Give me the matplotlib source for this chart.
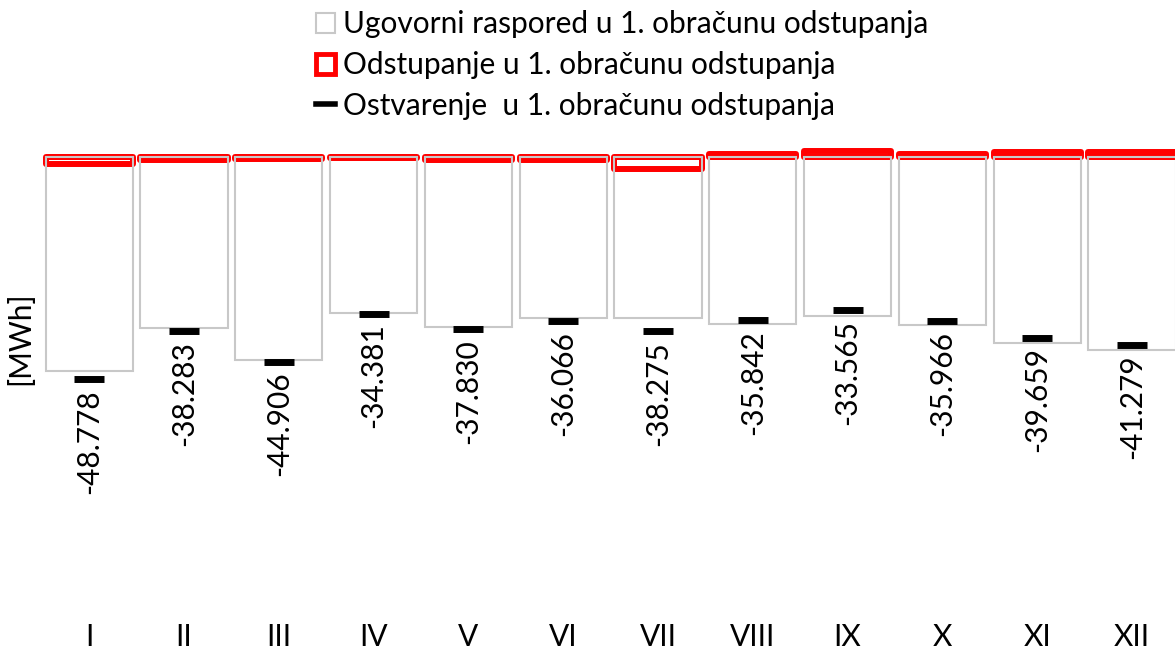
import numpy as np
import matplotlib.pyplot as plt
from matplotlib.patches import Patch
from matplotlib.lines import Line2D

plt.rcParams['font.family'] = ['Lato', 'DejaVu Sans']

months = ["I", "II", "III", "IV", "V", "VI", "VII", "VIII", "IX", "X", "XI", "XII"]

# ugovorni raspored (contracted schedule)
contract = [-46.97, -37.45, -44.55, -34.29, -37.23, -35.25,
            -35.25, -36.64, -34.88, -36.86, -40.88, -42.42]
# odstupanje (deviation)
deviation = [-1.40, -0.70, -0.33, -0.07, -0.63, -0.70,
             -2.55, 0.80, 1.32, 0.78, 1.12, 1.25]
# ostvarenje (realization)
realized = [-48.778, -38.283, -44.906, -34.381, -37.830, -36.066,
            -38.275, -35.842, -33.565, -35.966, -39.659, -41.279]

grey = '#c8c8c8'
red = '#ff0000'
fs = 21.5

fig = plt.figure(figsize=(11.75, 6.6), dpi=100)
ax = fig.add_axes([41.8 / 1175, 0.0723, 1137.6 / 1175, 0.7583])

x = np.arange(len(months))

ax.bar(x, deviation, width=0.92, facecolor='white', edgecolor=red,
       linewidth=4.3, joinstyle='round', zorder=2)
ax.bar(x, contract, width=0.92, facecolor='none', edgecolor=grey,
       linewidth=1.5, zorder=3)
ax.plot(x, realized, ls='none', marker='_', ms=21, mew=5, color='black', zorder=4)

for xi, v in zip(x, realized):
    ax.annotate(f"{v:.3f}", (xi, v), xytext=(0, -7), textcoords='offset points',
                rotation=90, ha='center', va='top', fontsize=fs)

ax.set_xlim(-0.5, 11.5)
ax.set_ylim(-100, 10)
ax.set_xticks(x)
ax.set_xticklabels(months, fontsize=fs)
ax.tick_params(axis='x', length=0, pad=8)
ax.set_yticks([])
for s in ax.spines.values():
    s.set_visible(False)

fig.text(0.017, 1 - 338 / 660, "[MWh]", rotation=90, ha='center', va='center', fontsize=fs)

handles = [
    Patch(facecolor='white', edgecolor=grey, linewidth=1.5),
    Patch(facecolor='white', edgecolor=red, linewidth=3.5),
    Line2D([0], [0], color='black', lw=4),
]
labels = ["Ugovorni raspored u 1. obračunu odstupanja",
          "Odstupanje u 1. obračunu odstupanja",
          "Ostvarenje  u 1. obračunu odstupanja"]
fig.legend(handles, labels, loc='upper left', bbox_to_anchor=(316 / 1175, 1 - 10.5 / 660),
           frameon=False, fontsize=fs, handlelength=0.65, handleheight=0.65,
           handletextpad=0.25, labelspacing=0.42, borderpad=0, borderaxespad=0)

fig.savefig('out.png', dpi=100)
